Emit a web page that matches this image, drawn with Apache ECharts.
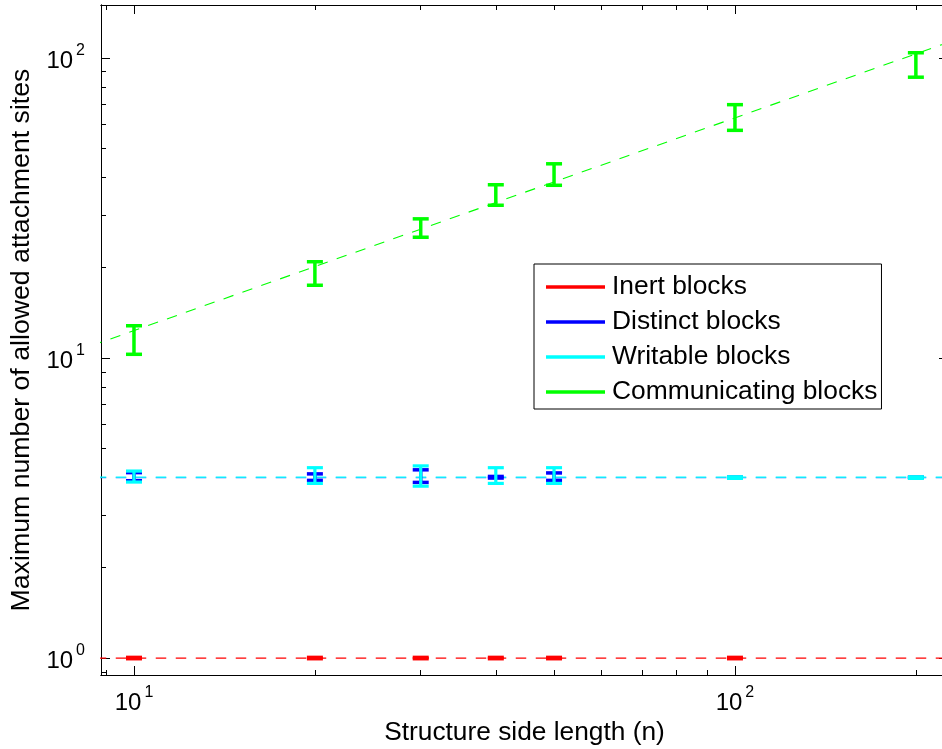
<!DOCTYPE html>
<html>
<head>
<meta charset="utf-8">
<script src="https://cdn.jsdelivr.net/npm/echarts@6/dist/echarts.min.js"></script>
<style>
html,body{margin:0;padding:0;background:#fff;}
#chart{width:942px;height:749px;}
</style>
</head>
<body>
<div id="chart"></div>
<script>
// ---- data ----
const sideLengths = [10, 20, 30, 40, 50, 100, 200];

const inertLow  = [0.995, 0.995, 0.995, 0.995, 0.995, 0.995];
const inertHigh = [1.005, 1.005, 1.005, 1.005, 1.005, 1.005];
const inertN    = [10, 20, 30, 40, 50, 100];

const distinctLow  = [3.90, 3.91, 3.85, 3.98, 3.91, 3.995, 3.995];
const distinctHigh = [4.15, 4.11, 4.24, 4.03, 4.14, 4.005, 4.005];

const writableLow  = [3.86, 3.82, 3.74, 3.82, 3.82, 3.97, 3.97];
const writableHigh = [4.20, 4.31, 4.37, 4.31, 4.31, 4.02, 4.02];

const commLow  = [10.29, 17.48, 25.27, 32.3, 37.65, 57.4, 86.3];
const commHigh = [12.81, 20.94, 29.1, 37.8, 44.4, 69.9, 104.1];

// fitted (dashed) lines: endpoints
const inertFit    = [[8, 1.0], [240, 1.0]];
const distinctFit = [[8, 3.99], [240, 3.99]];
const writableFit = [[8, 4.01], [240, 4.01]];
const commFit     = [[8.5, 11.0], [230, 114]];

const seriesNames = ['Inert blocks', 'Distinct blocks', 'Writable blocks', 'Communicating blocks'];
const colors = ['#ff0000', '#0000ff', '#00ffff', '#00ff00'];

const xMajorTicks = [10, 100];
const xMinorTicks = [9, 20, 30, 40, 50, 60, 70, 80, 90, 200];
const yMajorTicks = [1, 10, 100];
const yMinorTicks = [0.9, 2, 3, 4, 5, 6, 7, 8, 9, 20, 30, 40, 50, 60, 70, 80, 90];

const X_MIN = 8.813, X_MAX = 226.2;
const Y_MIN = 0.878, Y_MAX = 150.2;

// ---- chart ----
const FONT = '"Liberation Sans", Arial, Helvetica, sans-serif';

function zip(xs, lo, hi) { return xs.map((x, i) => [x, lo[i], hi[i]]); }

function makeRender(lw) {
  return function (params, api) {
    const x = api.value(0), lo = api.value(1), hi = api.value(2);
    const pH = api.coord([x, hi]);
    const pL = api.coord([x, lo]);
    const hw = 8;
    const color = api.visual('color');
    const st = { stroke: color, lineWidth: lw, lineCap: 'butt' };
    return {
      type: 'group',
      children: [
        { type: 'line', shape: { x1: pH[0], y1: pH[1], x2: pL[0], y2: pL[1] }, style: st },
        { type: 'line', shape: { x1: pH[0] - hw, y1: pH[1], x2: pH[0] + hw, y2: pH[1] }, style: st },
        { type: 'line', shape: { x1: pL[0] - hw, y1: pL[1], x2: pL[0] + hw, y2: pL[1] }, style: st }
      ]
    };
  };
}

function powLabel(v) {
  const e = Math.round(Math.log10(v));
  if (Math.abs(Math.pow(10, e) - v) > 1e-6 * v) return '';
  return '{b|10}{s|' + e + '}';
}
const richLabel = {
  b: { fontSize: 24, fontFamily: FONT, color: '#000', lineHeight: 30, verticalAlign: 'bottom' },
  s: { fontSize: 16, fontFamily: FONT, color: '#000', lineHeight: 30, verticalAlign: 'top', padding: [0, 0, 0, 3] }
};

const axisLineStyle = { show: true, lineStyle: { color: '#000', width: 1 } };

function xAxisDef(gridIndex, position, ticks, len, labels) {
  return {
    type: 'log', gridIndex, position, min: X_MIN, max: X_MAX, logBase: 10,
    axisLine: axisLineStyle,
    axisTick: { show: true, inside: true, length: len, customValues: ticks, lineStyle: { color: '#000', width: 1 } },
    axisLabel: labels ? { show: true, customValues: xMajorTicks, formatter: powLabel, rich: richLabel, margin: 10 } : { show: false },
    splitLine: { show: false }, minorTick: { show: false }, minorSplitLine: { show: false }
  };
}
function yAxisDef(gridIndex, position, ticks, len, labels) {
  return {
    type: 'log', gridIndex, position, min: Y_MIN, max: Y_MAX, logBase: 10,
    axisLine: axisLineStyle,
    axisTick: { show: true, inside: true, length: len, customValues: ticks, lineStyle: { color: '#000', width: 1 } },
    axisLabel: labels ? { show: true, customValues: yMajorTicks, formatter: powLabel, rich: richLabel, margin: 16 } : { show: false },
    splitLine: { show: false }, minorTick: { show: false }, minorSplitLine: { show: false }
  };
}

const xAxes = [
  Object.assign(xAxisDef(0, 'bottom', xMajorTicks, 9, true), {
    name: 'Structure side length (n)', nameLocation: 'middle', nameGap: 44,
    nameTextStyle: { fontSize: 26.3, fontFamily: FONT, color: '#000' }
  }),
  xAxisDef(0, 'top', xMajorTicks, 9, false),
  xAxisDef(1, 'bottom', xMinorTicks, 5, false),
  xAxisDef(1, 'top', xMinorTicks, 5, false)
];
const yAxes = [
  Object.assign(yAxisDef(0, 'left', yMajorTicks, 9, true), {
    name: 'Maximum number of allowed attachment sites', nameLocation: 'middle', nameGap: 62,
    nameTextStyle: { fontSize: 26.7, fontFamily: FONT, color: '#000' }
  }),
  yAxisDef(0, 'right', yMajorTicks, 9, false),
  yAxisDef(1, 'left', yMinorTicks, 5, false),
  yAxisDef(1, 'right', yMinorTicks, 5, false)
];

function fitSeries(name, data, color, w) {
  return {
    name, type: 'line', xAxisIndex: 0, yAxisIndex: 0, data, symbol: 'none', silent: true,
    clip: true, lineStyle: { color, width: w, type: [10.5, 9.5] }, z: 3
  };
}
function errSeries(name, data, color, z, lw) {
  return {
    name, type: 'custom', xAxisIndex: 0, yAxisIndex: 0, data, renderItem: makeRender(lw),
    itemStyle: { color }, z, clip: true
  };
}

const option = {
  animation: false,
  backgroundColor: '#fff',
  grid: [
    { left: 101, top: 5, right: -6, bottom: 74, outerBoundsMode: 'none', containLabel: false },
    { left: 101, top: 5, right: -6, bottom: 74, outerBoundsMode: 'none', containLabel: false }
  ],
  xAxis: xAxes,
  yAxis: yAxes,
  legend: {
    data: seriesNames.map((n, i) => ({ name: n, icon: 'rect', itemStyle: { color: colors[i] } })),
    orient: 'vertical', left: 534, top: 264,
    itemWidth: 59, itemHeight: 3.5, itemGap: 5,
    padding: [8, 4, 2, 12],
    backgroundColor: '#fff', borderColor: '#000', borderWidth: 1, borderRadius: 0,
    textStyle: { fontSize: 26.4, fontFamily: FONT, color: '#000', lineHeight: 30, padding: [0, 0, 0, 2] },
    selectedMode: false
  },
  series: [
    errSeries(seriesNames[0], zip(inertN, inertLow, inertHigh), colors[0], 4, 3.5),
    errSeries(seriesNames[1], zip(sideLengths, distinctLow, distinctHigh), colors[1], 4, 3.5),
    errSeries(seriesNames[2], zip(sideLengths, writableLow, writableHigh), colors[2], 5, 3.2),
    errSeries(seriesNames[3], zip(sideLengths, commLow, commHigh), colors[3], 4, 3.5),
    fitSeries('inertFit', inertFit, colors[0], 1.3),
    fitSeries('distinctFit', distinctFit, '#2a6cff', 1.2),
    fitSeries('writableFit', writableFit, colors[2], 1.2),
    fitSeries('commFit', commFit, colors[3], 1.1)
  ]
};

const chart = echarts.init(document.getElementById('chart'), null, { renderer: 'canvas' });
chart.setOption(option);
</script>
</body>
</html>
